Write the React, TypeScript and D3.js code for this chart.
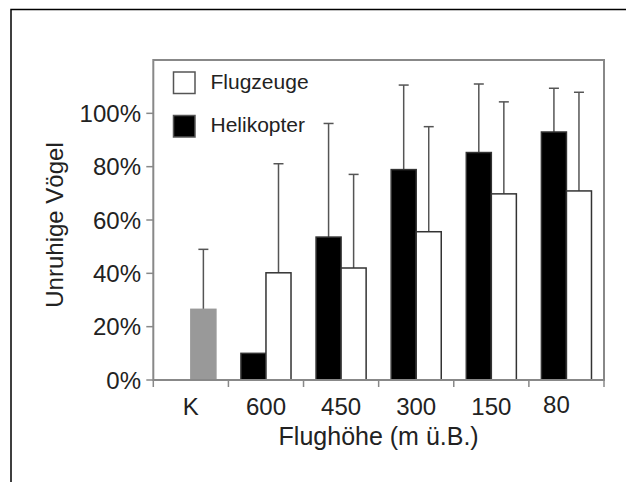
import React from "react";
import * as d3 from "d3";

const categories = ["K", "600", "450", "300", "150", "80"];
const helikopter: (number | null)[] = [null, 10, 53.6, 78.9, 85.3, 93];
const helikopterUpper: (number | null)[] = [null, null, 96.2, 110.6, 111, 109.4];
const flugzeuge: (number | null)[] = [null, 40.2, 42, 55.6, 69.8, 70.9];
const flugzeugeUpper: (number | null)[] = [null, 81.1, 77.1, 95, 104.3, 107.9];
const kontrolle: (number | null)[] = [26.5, null, null, null, null, null];
const kontrolleUpper: (number | null)[] = [49, null, null, null, null, null];
const yTicks = [0, 20, 40, 60, 80, 100];
const legendItems = [
  { label: "Flugzeuge", fill: "#ffffff" },
  { label: "Helikopter", fill: "#000000" },
];

const W = 626;
const H = 482;
const left = 153.3;
const right = 604;
const top = 60;
const bottom = 380;
const font = "'Liberation Sans', Arial, Helvetica, sans-serif";
const textColor = "#222";

export default function App() {
  const x = d3.scaleBand<string>().domain(categories).range([left, right]).padding(0);
  const y = d3.scaleLinear().domain([0, 120]).range([bottom, top]);
  const bw = x.bandwidth();
  const barW = bw / 3;

  type Bar = { cat: string; v: number; up: number | null; fill: string; x0: number };
  const bars: Bar[] = [];
  categories.forEach((c, i) => {
    const x0 = x(c)!;
    const h = helikopter[i];
    if (h != null) bars.push({ cat: c, v: h, up: helikopterUpper[i], fill: "#000", x0: x0 + bw / 6 });
    const f = flugzeuge[i];
    if (f != null) bars.push({ cat: c, v: f, up: flugzeugeUpper[i], fill: "#fff", x0: x0 + bw / 2 });
    const k = kontrolle[i];
    if (k != null) bars.push({ cat: c, v: k, up: kontrolleUpper[i], fill: "#999", x0: x0 + bw / 2 });
  });

  const boundaries = [...categories.map((c) => x(c)!), right];

  return (
    <svg
      width={W}
      height={H}
      style={{ position: "absolute", left: 0, top: 0, background: "#fff" }}
      fontFamily={font}
    >
      {/* outer border (top & left) */}
      <path d={`M11,${H} L11,9.5 L${W},9.5`} fill="none" stroke="#000" strokeWidth={1.5} />

      {/* error bars (behind bars) */}
      {bars.map((b, i) =>
        b.up != null ? (
          <g key={"e" + i} stroke="#555" strokeWidth={1.5}>
            <line x1={b.x0 + barW / 2} x2={b.x0 + barW / 2} y1={y(b.v)} y2={y(b.up)} />
            <line x1={b.x0 + barW / 2 - 5} x2={b.x0 + barW / 2 + 5} y1={y(b.up)} y2={y(b.up)} />
          </g>
        ) : null
      )}

      {/* bars */}
      {bars.map((b, i) => (
        <rect
          key={"b" + i}
          x={b.x0}
          y={y(b.v)}
          width={barW}
          height={y(0) - y(b.v)}
          fill={b.fill}
          stroke={b.fill === "#999" ? "#999" : "#333"}
          strokeWidth={1.5}
        />
      ))}

      {/* frame */}
      <rect x={left} y={top} width={right - left} height={bottom - top} fill="none" stroke="#888" strokeWidth={2} />

      {/* y ticks */}
      {yTicks.map((t) => (
        <g key={"y" + t}>
          <line x1={left - 7} x2={left} y1={y(t)} y2={y(t)} stroke="#888" strokeWidth={1.5} />
          <text x={141} y={y(t)} dy="0.36em" textAnchor="end" fontSize={24} fill={textColor}>
            {t}%
          </text>
        </g>
      ))}

      {/* x ticks */}
      {boundaries.map((bx, i) => (
        <line key={"xt" + i} x1={bx} x2={bx} y1={bottom} y2={bottom + 7} stroke="#888" strokeWidth={1.5} />
      ))}
      {categories.map((c) => (
        <text
          key={"xl" + c}
          x={x(c)! + bw / 2 + (c === "80" ? -10 : 0)}
          y={c === "80" ? 413 : 415}
          textAnchor="middle"
          fontSize={24}
          fill={textColor}
        >
          {c}
        </text>
      ))}

      {/* axis titles */}
      <text x={(left + right) / 2} y={445} textAnchor="middle" fontSize={25} fill={textColor}>
        Flughöhe (m ü.B.)
      </text>
      <text
        transform={`translate(63, 225) rotate(-90)`}
        textAnchor="middle"
        fontSize={24}
        fill={textColor}
      >
        Unruhige Vögel
      </text>

      {/* legend */}
      {legendItems.map((it, i) => (
        <g key={"lg" + i} transform={`translate(0, ${i * 43.5})`}>
          <rect x={173.5} y={72} width={21.5} height={21.5} fill={it.fill} stroke="#555" strokeWidth={1.5} />
          <text x={210.5} y={88.5} fontSize={21} fill={textColor}>
            {it.label}
          </text>
        </g>
      ))}
    </svg>
  );
}
